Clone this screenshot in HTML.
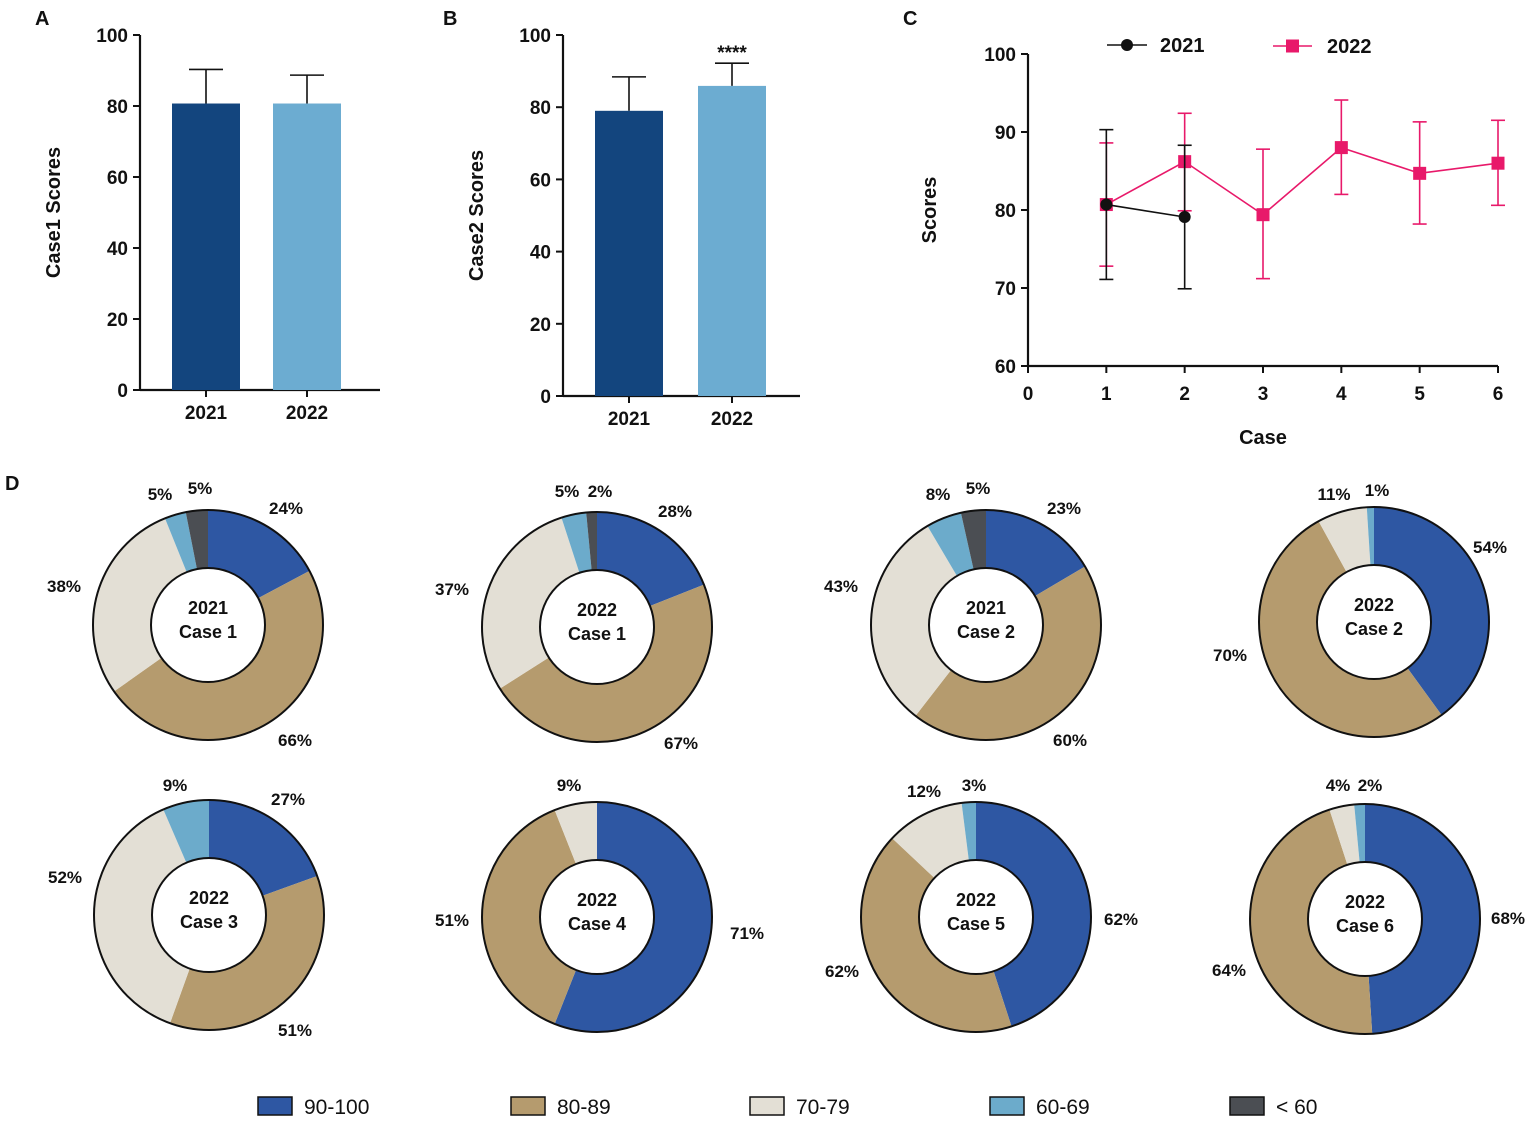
<!DOCTYPE html>
<html><head><meta charset="utf-8">
<style>
body{margin:0;background:#fff;}
svg{display:block;font-family:"Liberation Sans",Arial,sans-serif;}
</style></head>
<body>
<svg id="fig" width="1535" height="1124" viewBox="0 0 1535 1124">
<g id="root"></g>
</svg>
<script>
// ===== data =====
const barCats = ["2021","2022"];
const case1Means = [80.7, 80.7];
const case1Err = [90.3, 88.7];
const case2Means = [79.0, 85.9];
const case2Err = [88.4, 92.2];
const barTicks = [0,20,40,60,80,100];

const lineCases = [1,2,3,4,5,6];
const xTicks = [0,1,2,3,4,5,6];
const yTicksC = [60,70,80,90,100];
const s2021 = [80.7, 79.1];
const s2021Lo = [71.1, 69.9];
const s2021Hi = [90.3, 88.3];
const s2022 = [80.7, 86.2, 79.4, 88.0, 84.7, 86.0];
const s2022Lo = [72.8, 79.9, 71.2, 82.0, 78.2, 80.6];
const s2022Hi = [88.6, 92.4, 87.8, 94.1, 91.3, 91.5];

const gradeCats = ["90-100","80-89","70-79","60-69","< 60"];
const gradeColors = ["#2e57a3","#b59b6e","#e3dfd5","#6cabcb","#4b4e53"];
const donutTitles = [["2021","Case 1"],["2022","Case 1"],["2021","Case 2"],["2022","Case 2"],["2022","Case 3"],["2022","Case 4"],["2022","Case 5"],["2022","Case 6"]];
const donutShares = [
 [17.2,48,28.7,3,3.1],
 [19,47,29,3.5,1.5],
 [16.5,44,31,5,3.5],
 [40,52,7,1,0],
 [19.5,36,38,6.5,0],
 [56,38,6,0,0],
 [45,42,11,2,0],
 [49,46,3.5,1.5,0]
];
const donutLabels = [
 ["24%","66%","38%","5%","5%"],
 ["28%","67%","37%","5%","2%"],
 ["23%","60%","43%","8%","5%"],
 ["54%","70%","11%","1%"],
 ["27%","51%","52%","9%"],
 ["71%","51%","9%"],
 ["62%","62%","12%","3%"],
 ["68%","64%","4%","2%"]
];
// ===== layout =====
const NS="http://www.w3.org/2000/svg";
const root=document.getElementById('root');
function mk(tag,attrs,parent){const e=document.createElementNS(NS,tag);for(const k in attrs)e.setAttribute(k,attrs[k]);(parent||root).appendChild(e);return e;}
function txt(x,y,s,size,anchor,parent,extra){const t=mk('text',Object.assign({x:x,y:y,'font-size':size,'font-weight':'bold','text-anchor':anchor||'middle',fill:'#111','xml:space':'preserve'},extra||{}),parent);t.textContent=s;return t;}

[["A",35,25],["B",443,25],["C",903,25],["D",5,490]].forEach(p=>{const t=txt(p[1],p[2],p[0],20,'start');

});

function barPanel(name,ax,y0,y100,xEnd,bars,means,errs,title,titleX,stars){
 const g=mk('g',{});
 
 
 const ys=v=>y0-(v/100)*(y0-y100);
 mk('line',{x1:ax,y1:y100,x2:ax,y2:y0,stroke:'#111','stroke-width':2.2},g);
 mk('line',{x1:ax,y1:y0,x2:xEnd,y2:y0,stroke:'#111','stroke-width':2.2},g);
 barTicks.forEach(v=>{mk('line',{x1:ax-7,y1:ys(v),x2:ax,y2:ys(v),stroke:'#111','stroke-width':2},g);
  const t=txt(ax-12,ys(v)+7,String(v),19,'end',g);
  
  });
 const cols=['#13457e','#6cacd1'];
 means.forEach((m,i)=>{
  const bx=bars[i];
  const hx=bx+34;
  mk('line',{x1:hx,y1:ys(errs[i]),x2:hx,y2:ys(m),stroke:'#111','stroke-width':1.6},g);
  mk('line',{x1:hx-17,y1:ys(errs[i]),x2:hx+17,y2:ys(errs[i]),stroke:'#111','stroke-width':1.6},g);
  const r=mk('rect',{x:bx,y:ys(m),width:68,height:ys(0)-ys(m),fill:cols[i]},g);
  
  
  mk('line',{x1:hx,y1:y0,x2:hx,y2:y0+7,stroke:'#111','stroke-width':2},g);
  const t=txt(hx,y0+29,barCats[i],19,'middle',g);
  
  
 });
 const tt=txt(titleX,(y0+y100)/2,title,20,'middle',g,{transform:`rotate(-90 ${titleX} ${(y0+y100)/2})`});
 
 
 if(stars){const s=txt(bars[1]+34,ys(errs[1])-4,'****',19,'middle',g);
  
  }
}
barPanel('panel-a-case1-bars',140,390,35,380,[172,273],case1Means,case1Err,'Case1  Scores',60);
barPanel('panel-b-case2-bars',563,396,35,800,[595,698],case2Means,case2Err,'Case2  Scores',483,true);

(function(){
 const g=mk('g',{});
 
 
 const x0=1028,x6=1498,y60=366,y100=54;
 const xs=v=>x0+v*(x6-x0)/6, ys=v=>y60-(v-60)*(y60-y100)/40;
 mk('line',{x1:x0,y1:y100,x2:x0,y2:y60,stroke:'#111','stroke-width':2.2},g);
 mk('line',{x1:x0,y1:y60,x2:x6,y2:y60,stroke:'#111','stroke-width':2.2},g);
 yTicksC.forEach(v=>{mk('line',{x1:x0-7,y1:ys(v),x2:x0,y2:ys(v),stroke:'#111','stroke-width':2},g);
  const t=txt(x0-12,ys(v)+7,String(v),19,'end',g);
  
  });
 xTicks.forEach(v=>{mk('line',{x1:xs(v),y1:y60,x2:xs(v),y2:y60+7,stroke:'#111','stroke-width':2},g);
  const t=txt(xs(v),y60+34,String(v),19,'middle',g);
  
  });
 const yt=txt(936,210,'Scores',20,'middle',g,{transform:'rotate(-90 936 210)'});
 
 
 const xt=txt(1263,444,'Case',20,'middle',g);
 
 
 function series(vals,lo,hi,col,shape,name){
  const sg=mk('g',{},g);
  
  
  vals.forEach((v,i)=>{const x=xs(lineCases[i]);
   mk('line',{x1:x,y1:ys(lo[i]),x2:x,y2:ys(hi[i]),stroke:col,'stroke-width':1.6},sg);
   [lo[i],hi[i]].forEach(e=>mk('line',{x1:x-7,y1:ys(e),x2:x+7,y2:ys(e),stroke:col,'stroke-width':1.6},sg));});
  mk('polyline',{points:vals.map((v,i)=>xs(lineCases[i])+','+ys(v)).join(' '),fill:'none',stroke:col,'stroke-width':1.6},sg);
  vals.forEach((v,i)=>{const x=xs(lineCases[i]),y=ys(v);
   const m=shape==='c'?mk('circle',{cx:x,cy:y,r:6,fill:col},sg):mk('rect',{x:x-6.5,y:y-6.5,width:13,height:13,fill:col},sg);
   
   });
 }
 series(s2022,s2022Lo,s2022Hi,'#e8196a','s','2022');
 series(s2021,s2021Lo,s2021Hi,'#111','c','2021');
 const l1=mk('g',{},g);
 
 
 mk('line',{x1:1107,y1:45,x2:1147,y2:45,stroke:'#111','stroke-width':1.6},l1);
 mk('circle',{cx:1127,cy:45,r:6,fill:'#111'},l1);
 txt(1160,52,'2021',20,'start',l1);
 const l2=mk('g',{},g);
 
 
 mk('line',{x1:1273,y1:46,x2:1312,y2:46,stroke:'#e8196a','stroke-width':1.6},l2);
 mk('rect',{x:1286,y:39.5,width:13,height:13,fill:'#e8196a'},l2);
 txt(1327,53,'2022',20,'start',l2);
})();

const centers=[[208,625],[597,627],[986,625],[1374,622],[209,915],[597,917],[976,917],[1365,919]];
const labelPos=[
 [[286,508],[295,740],[64,586],[160,494],[200,488]],
 [[675,511],[681,743],[452,589],[567,491],[600,491]],
 [[1064,508],[1070,740],[841,586],[938,494],[978,488]],
 [[1490,547],[1230,655],[1334,494],[1377,490]],
 [[288,799],[295,1030],[65,877],[175,785]],
 [[747,933],[452,920],[569,785]],
 [[1121,919],[842,971],[924,791],[974,785]],
 [[1508,918],[1229,970],[1338,785],[1370,785]]
];
function arc(cx,cy,R,r,a0,a1){
 const p=(a,rr)=>[cx+rr*Math.sin(a),cy-rr*Math.cos(a)];
 const lg=(a1-a0)>Math.PI?1:0;
 const [x1,y1]=p(a0,R),[x2,y2]=p(a1,R),[x3,y3]=p(a1,r),[x4,y4]=p(a0,r);
 return `M${x1},${y1}A${R},${R} 0 ${lg} 1 ${x2},${y2}L${x3},${y3}A${r},${r} 0 ${lg} 0 ${x4},${y4}Z`;
}
donutShares.forEach((sh,d)=>{
 const g=mk('g',{});
 
 
 const [cx,cy]=centers[d],R=115,r=57;
 const tot=sh.reduce((a,b)=>a+b,0);
 let a=0;
 sh.forEach((v,i)=>{if(v<=0)return;const a1=a+v/tot*2*Math.PI;
  const s=mk('path',{d:arc(cx,cy,R,r,a,a1),fill:gradeColors[i]},g);
  
  
  a=a1;});
 mk('circle',{cx:cx,cy:cy,r:R,fill:'none',stroke:'#111','stroke-width':2},g);
 mk('circle',{cx:cx,cy:cy,r:r,fill:'#fff',stroke:'#111','stroke-width':2},g);
 const t1=txt(cx,cy-11,donutTitles[d][0],18,'middle',g);
 
 
 const t2=txt(cx,cy+13,donutTitles[d][1],18,'middle',g);
 
 
 donutLabels[d].forEach((s,k)=>{const lp=labelPos[d][k];
  const t=txt(lp[0],lp[1]+6,s,17,'middle',g);
  
  });
});

const legX=[258,511,750,990,1230];
gradeCats.forEach((c,i)=>{
 const g=mk('g',{});
 
 
 mk('rect',{x:legX[i],y:1097,width:34,height:18,fill:gradeColors[i],stroke:'#111','stroke-width':1.5},g);
 const t=mk('text',{x:legX[i]+46,y:1114,'font-size':21,fill:'#111','text-anchor':'start'},g);
 t.textContent=c;
});
</script>
</body></html>
